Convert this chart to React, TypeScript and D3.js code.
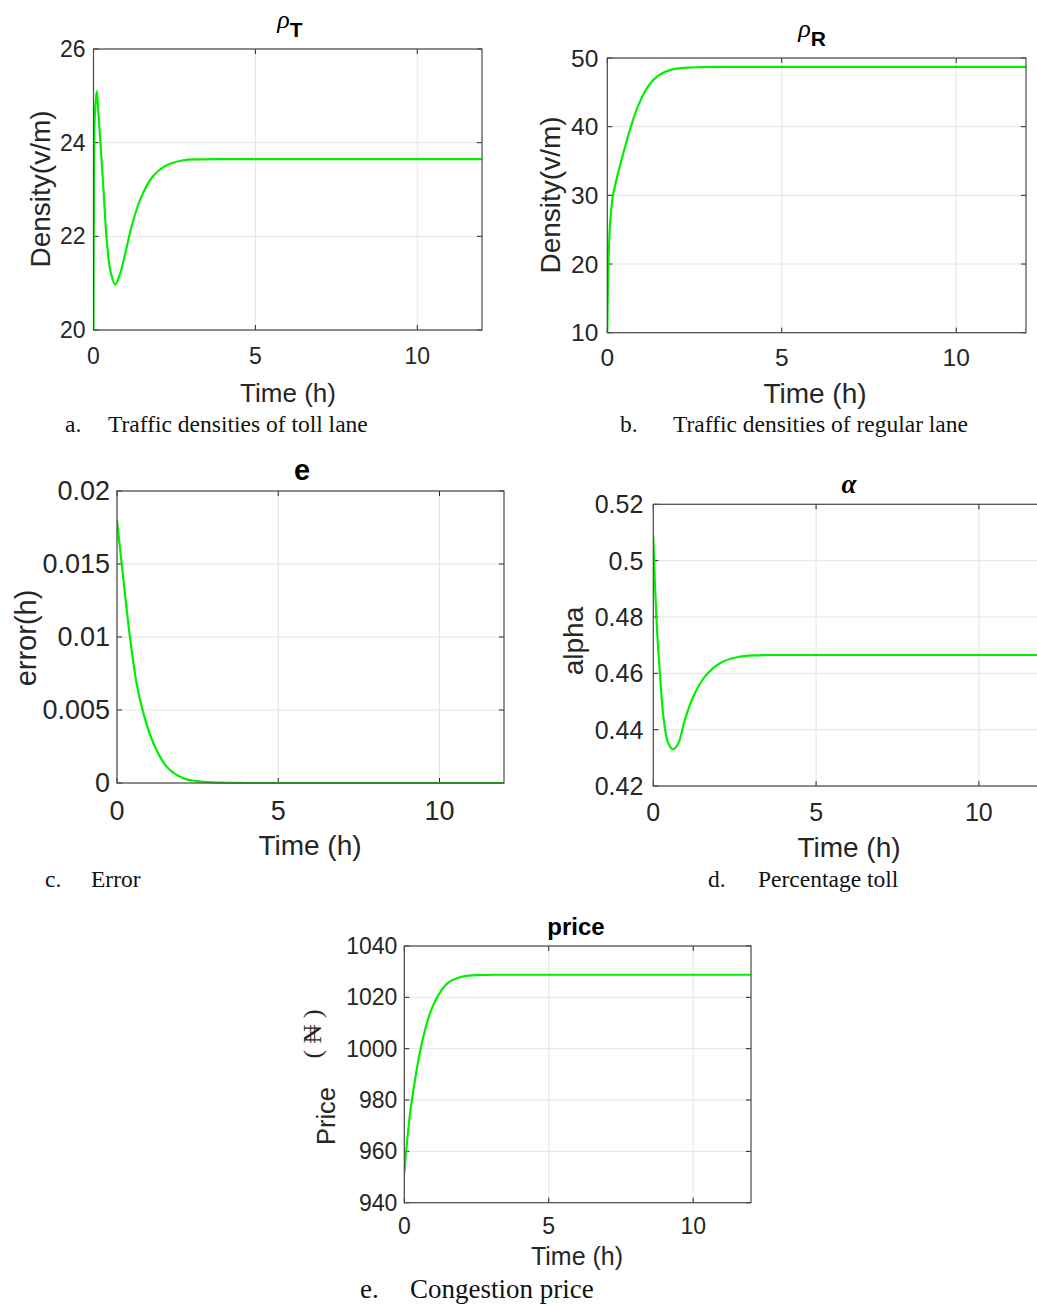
import React from "react";
import * as d3 from "d3";

// time axis shared by all panels
const timeTicks = [0, 5, 10];

// a. toll lane density
const tollTime = [0, 0.01, 0.04, 0.1, 0.16, 0.21, 0.31, 0.41, 0.52, 0.67, 0.82, 0.98, 1.18, 1.44, 1.8, 2.21, 2.73, 3.35, 4, 5, 6, 7, 8, 9, 10, 11, 12];
const tollDensity = [20, 22.6, 24.55, 25.1, 24.55, 24.05, 22.98, 21.91, 21.27, 20.97, 21.2, 21.63, 22.22, 22.78, 23.25, 23.5, 23.62, 23.645, 23.65, 23.65, 23.65, 23.65, 23.65, 23.65, 23.65, 23.65, 23.65];
const tollTicks = [20, 22, 24, 26];

// b. regular lane density
const regularTime = [0, 0.01, 0.03, 0.06, 0.1, 0.16, 0.24, 0.31, 0.5, 0.67, 0.88, 1.16, 1.45, 1.83, 2.31, 3.07, 4, 6, 8, 10, 12];
const regularDensity = [10, 14, 19.5, 24, 27.2, 29.9, 31.8, 33.3, 36.9, 39.9, 43, 45.8, 47.4, 48.3, 48.6, 48.7, 48.7, 48.7, 48.7, 48.7, 48.7];
const regularTicks = [10, 20, 30, 40, 50];

// c. error
const errorTime = [0, 0.2, 0.4, 0.61, 0.82, 1.13, 1.54, 2.06, 2.58, 3.2, 4, 6, 8, 10, 12];
const errorValue = [0.018, 0.0139, 0.01, 0.0068, 0.00477, 0.00272, 0.00112, 0.00032, 0.0001, 0.00002, 0, 0, 0, 0, 0];
const errorTicks = [0, 0.005, 0.01, 0.015, 0.02];
const errorTickLabels = ["0", "0.005", "0.01", "0.015", "0.02"];

// d. percentage toll
const alphaTime = [0, 0.05, 0.12, 0.21, 0.31, 0.46, 0.61, 0.77, 0.97, 1.23, 1.59, 2.05, 2.56, 3.2, 4, 6, 8, 10, 12];
const alphaValue = [0.5085, 0.492, 0.4743, 0.4589, 0.4447, 0.4352, 0.4331, 0.4352, 0.4435, 0.4518, 0.4589, 0.4636, 0.4657, 0.4664, 0.4665, 0.4665, 0.4665, 0.4665, 0.4665];
const alphaTicks = [0.42, 0.44, 0.46, 0.48, 0.5, 0.52];
const alphaTickLabels = ["0.42", "0.44", "0.46", "0.48", "0.5", "0.52"];

// e. congestion price
const priceTime = [0, 0.08, 0.2, 0.31, 0.49, 0.66, 0.89, 1.18, 1.52, 1.99, 2.68, 3.5, 5, 8, 12];
const priceValue = [951.5, 961.8, 974.8, 983.5, 995.6, 1004.7, 1013.8, 1020.9, 1025.7, 1028, 1028.7, 1028.8, 1028.8, 1028.8, 1028.8];
const priceTicks = [940, 960, 980, 1000, 1020, 1040];

const SANS = "'Liberation Sans', Arial, Helvetica, sans-serif";
const SERIF = "'Liberation Serif', 'Times New Roman', serif";
const INK = "#262626";

type Box = { x0: number; x1: number; y0: number; y1: number };

function Panel(props: {
  id: string;
  box: Box;
  times: number[];
  values: number[];
  yTicks: number[];
  yLabels?: string[];
  tickFont: number;
  xLabelFont: number;
  xTickOffset: number;
  xLabelBase: number;
  xLabelX: number;
  yGap: number;
}) {
  const { id, box, times, values, yTicks, yLabels, tickFont, xLabelFont, xTickOffset, xLabelBase, xLabelX, yGap } = props;
  const x = d3.scaleLinear().domain([0, 12]).range([box.x0, box.x1]);
  const y = d3.scaleLinear().domain([yTicks[0], yTicks[yTicks.length - 1]]).range([box.y1, box.y0]);
  const line = d3
    .line<number>()
    .x((_, i) => x(times[i]))
    .y((d) => y(d))
    .curve(d3.curveCatmullRom.alpha(0.5));
  const tl = 5;

  return (
    <g>
      <defs>
        <clipPath id={id}>
          <rect x={box.x0} y={box.y0 - 2} width={box.x1 - box.x0} height={box.y1 - box.y0 + 4} />
        </clipPath>
      </defs>
      <rect x={box.x0} y={box.y0} width={box.x1 - box.x0} height={box.y1 - box.y0} fill="#fff" />
      {timeTicks.map((t) => (
        <line key={"gx" + t} x1={x(t)} x2={x(t)} y1={box.y0} y2={box.y1} stroke="#e4e4e4" />
      ))}
      {yTicks.map((v) => (
        <line key={"gy" + v} x1={box.x0} x2={box.x1} y1={y(v)} y2={y(v)} stroke="#e4e4e4" />
      ))}
      {timeTicks.map((t) => (
        <g key={"tx" + t}>
          <line x1={x(t)} x2={x(t)} y1={box.y1} y2={box.y1 - tl} stroke={INK} />
          <line x1={x(t)} x2={x(t)} y1={box.y0} y2={box.y0 + tl} stroke={INK} />
        </g>
      ))}
      {yTicks.map((v) => (
        <g key={"ty" + v}>
          <line x1={box.x0} x2={box.x0 + tl} y1={y(v)} y2={y(v)} stroke={INK} />
          <line x1={box.x1} x2={box.x1 - tl} y1={y(v)} y2={y(v)} stroke={INK} />
        </g>
      ))}
      <path d={line(values) || ""} fill="none" stroke="#00f000" strokeWidth={2.2} clipPath={`url(#${id})`} />
      <rect x={box.x0} y={box.y0} width={box.x1 - box.x0} height={box.y1 - box.y0} fill="none" stroke="#4a4a4a" strokeWidth={1.2} />
      {timeTicks.map((t) => (
        <text key={"lx" + t} x={x(t)} y={box.y1 + xTickOffset} textAnchor="middle" dominantBaseline="central" fontFamily={SANS} fontSize={tickFont} fill={INK}>
          {t}
        </text>
      ))}
      {yTicks.map((v, i) => (
        <text key={"ly" + v} x={box.x0 - yGap} y={y(v)} textAnchor="end" dominantBaseline="central" fontFamily={SANS} fontSize={tickFont} fill={INK}>
          {yLabels ? yLabels[i] : v}
        </text>
      ))}
      <text x={xLabelX} y={xLabelBase} textAnchor="middle" fontFamily={SANS} fontSize={xLabelFont} fill={INK}>
        Time (h)
      </text>
    </g>
  );
}

function YLabel({ x, y, size, text }: { x: number; y: number; size: number; text: string }) {
  return (
    <text transform={`translate(${x},${y}) rotate(-90)`} textAnchor="middle" fontFamily={SANS} fontSize={size} fill={INK}>
      {text}
    </text>
  );
}

function Caption({ x, tx, y, size, letter, text }: { x: number; tx: number; y: number; size: number; letter: string; text: string }) {
  return (
    <g fontFamily={SERIF} fontSize={size} fill="#111">
      <text x={x} y={y}>{letter}</text>
      <text x={tx} y={y}>{text}</text>
    </g>
  );
}

export default function App() {
  return (
    <svg width={1037} height={1306} style={{ position: "absolute", left: 0, top: 0, background: "#fff" }}>
      {/* a */}
      <Panel id="ca" box={{ x0: 93.5, x1: 482, y0: 49, y1: 330 }} times={tollTime} values={tollDensity} yTicks={tollTicks}
        tickFont={23} xLabelFont={26} xTickOffset={26} xLabelBase={402} xLabelX={288} yGap={8} />
      <text x={290} y={28} textAnchor="middle" fill="#000">
        <tspan fontFamily={SERIF} fontStyle="italic" fontSize={26}>ρ</tspan>
        <tspan fontFamily={SANS} fontWeight="bold" fontSize={21} dy={9}>T</tspan>
      </text>
      <YLabel x={50} y={189} size={28} text="Density(v/m)" />
      <Caption x={65} tx={108} y={432} size={23.5} letter="a." text="Traffic densities of toll lane" />

      {/* b */}
      <Panel id="cb" box={{ x0: 607.3, x1: 1026, y0: 58, y1: 332.7 }} times={regularTime} values={regularDensity} yTicks={regularTicks}
        tickFont={24.5} xLabelFont={28} xTickOffset={25} xLabelBase={403} xLabelX={815} yGap={9} />
      <text x={812} y={37} textAnchor="middle" fill="#000">
        <tspan fontFamily={SERIF} fontStyle="italic" fontSize={26}>ρ</tspan>
        <tspan fontFamily={SANS} fontWeight="bold" fontSize={21} dy={9}>R</tspan>
      </text>
      <YLabel x={560} y={195} size={28} text="Density(v/m)" />
      <Caption x={620} tx={673} y={432} size={23.5} letter="b." text="Traffic densities of regular lane" />

      {/* c */}
      <Panel id="cc" box={{ x0: 117, x1: 504, y0: 491, y1: 783 }} times={errorTime} values={errorValue} yTicks={errorTicks} yLabels={errorTickLabels}
        tickFont={27} xLabelFont={28} xTickOffset={28} xLabelBase={855} xLabelX={310} yGap={7} />
      <text x={302} y={480} textAnchor="middle" fontFamily={SANS} fontWeight="bold" fontSize={29} fill="#000">e</text>
      <YLabel x={36} y={638} size={29} text="error(h)" />
      <Caption x={45} tx={91} y={887} size={23.5} letter="c." text="Error" />

      {/* d */}
      <Panel id="cd" box={{ x0: 653.3, x1: 1044, y0: 504.3, y1: 786 }} times={alphaTime} values={alphaValue} yTicks={alphaTicks} yLabels={alphaTickLabels}
        tickFont={25} xLabelFont={28} xTickOffset={26} xLabelBase={857} xLabelX={849} yGap={10} />
      <text x={849} y={493} textAnchor="middle" fontFamily={SERIF} fontStyle="italic" fontWeight="bold" fontSize={27} fill="#000">α</text>
      <YLabel x={583} y={641} size={28} text="alpha" />
      <Caption x={708} tx={758} y={887} size={23.5} letter="d." text="Percentage toll" />

      {/* e */}
      <Panel id="ce" box={{ x0: 404.3, x1: 751, y0: 946, y1: 1202.7 }} times={priceTime} values={priceValue} yTicks={priceTicks}
        tickFont={23} xLabelFont={25} xTickOffset={23} xLabelBase={1265} xLabelX={577} yGap={7} />
      <text x={576} y={935} textAnchor="middle" fontFamily={SANS} fontWeight="bold" fontSize={24} fill="#000">price</text>
      <YLabel x={335} y={1116} size={25.5} text="Price" />
      <text transform="translate(321,1034) rotate(-90)" textAnchor="middle" fontFamily={SERIF} fontSize={26} fill={INK}>
        ( ₦ )
      </text>
      <Caption x={360} tx={410} y={1298} size={27} letter="e." text="Congestion price" />
    </svg>
  );
}
